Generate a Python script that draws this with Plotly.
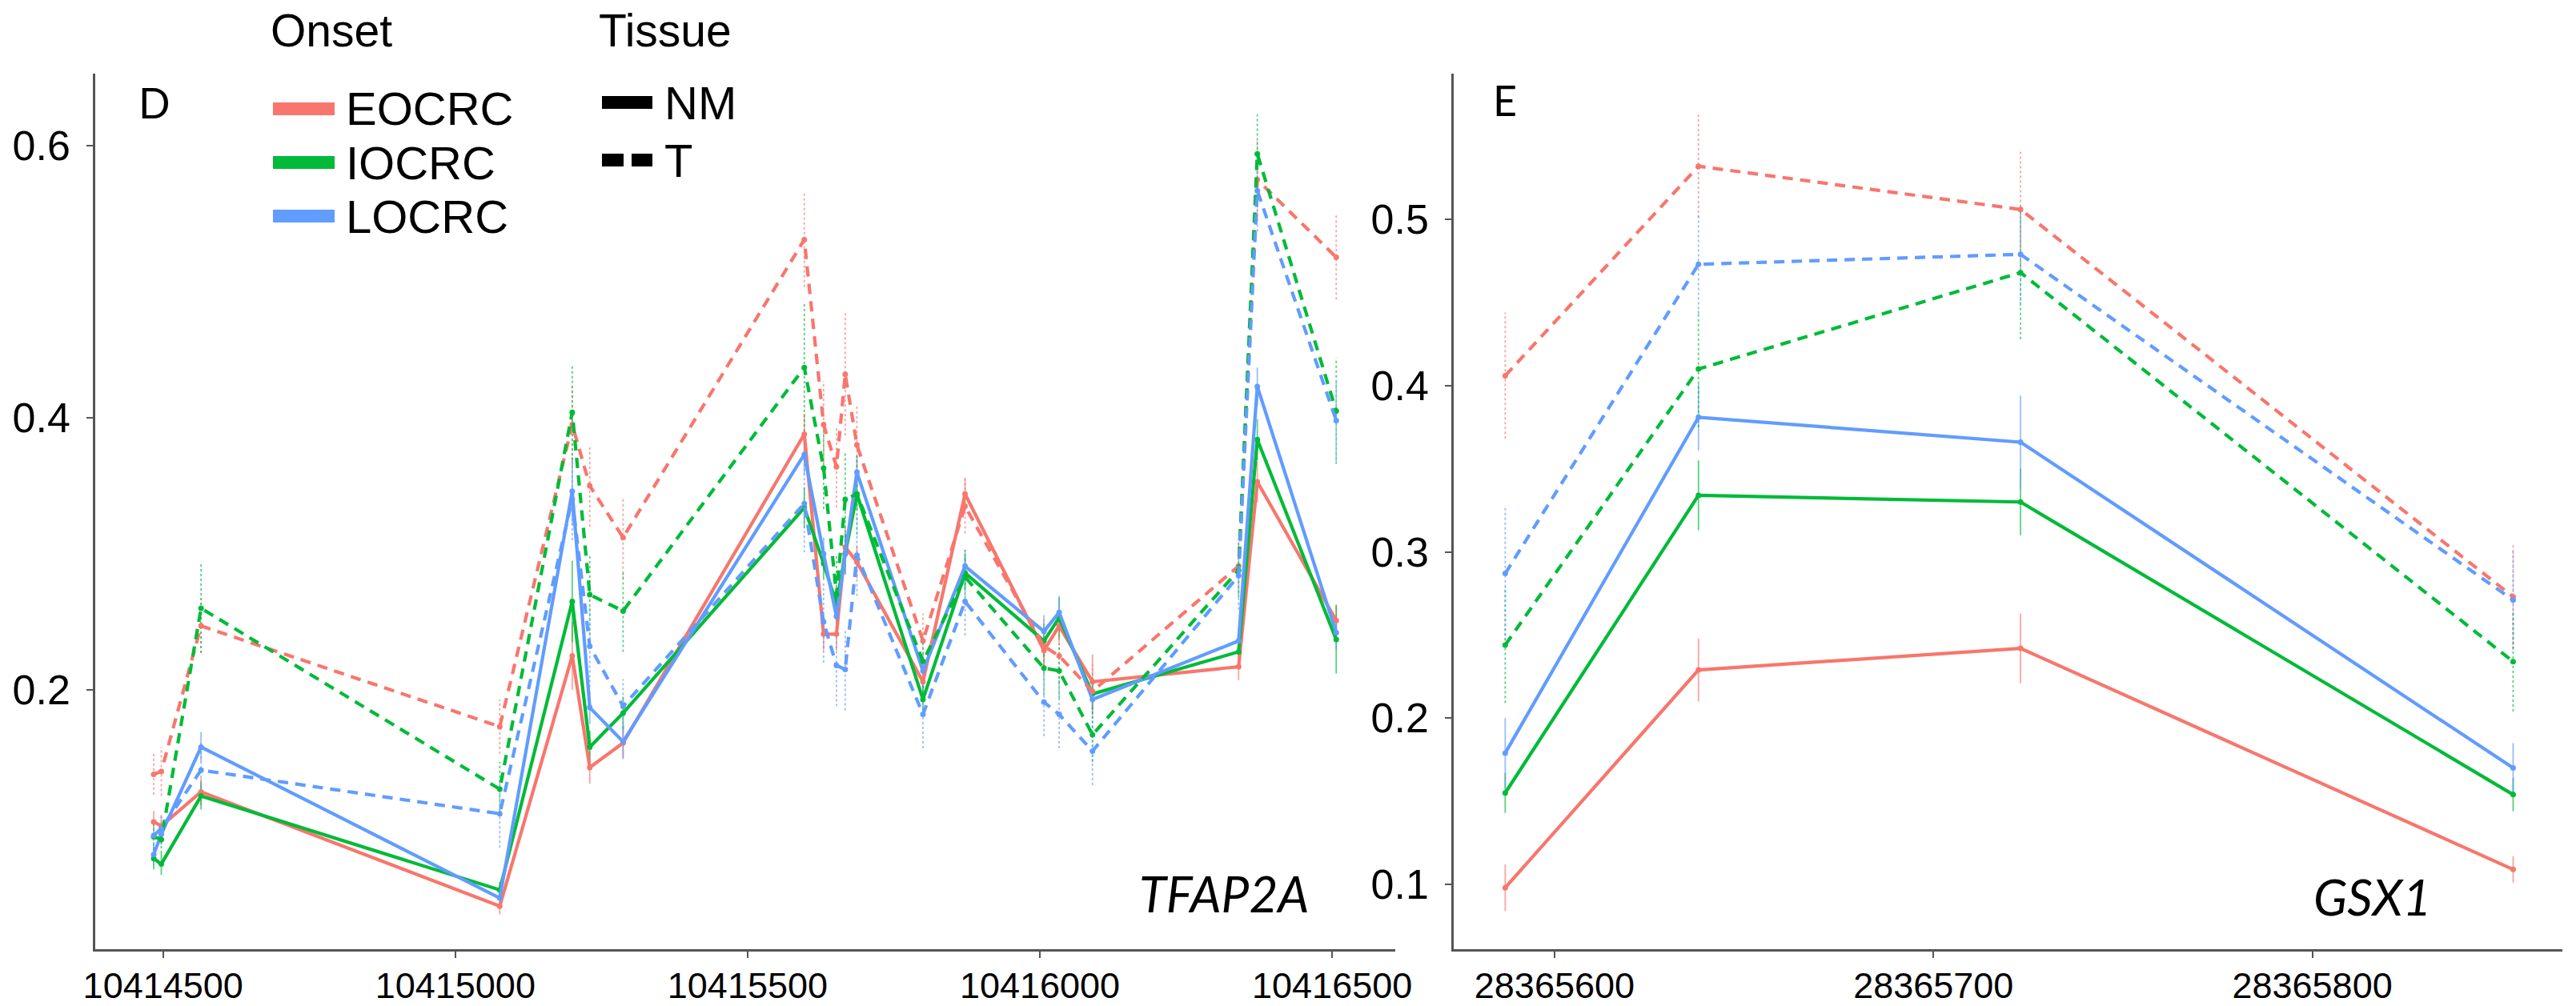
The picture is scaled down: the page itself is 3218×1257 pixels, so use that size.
import plotly.graph_objects as go

# ---------------- data ----------------
onsets = ["EOCRC", "IOCRC", "LOCRC"]
tissues = ["NM", "T"]
colors = {"EOCRC": "#F8766D", "IOCRC": "#00BA38", "LOCRC": "#619CFF"}

# Panel D : TFAP2A
pos_D = [10414484, 10414497, 10414565, 10415076, 10415200, 10415230, 10415287,
         10415597, 10415630, 10415652, 10415667, 10415687, 10415800, 10415872,
         10416007, 10416033, 10416090, 10416340, 10416372, 10416507]

D_EOCRC_NM = [0.103, 0.100, 0.125, 0.041, 0.225, 0.143, 0.161, 0.388, 0.241, 0.241,
              0.305, 0.294, 0.206, 0.344, 0.229, 0.247, 0.206, 0.217, 0.353, 0.251]
D_IOCRC_NM = [0.076, 0.072, 0.122, 0.053, 0.265, 0.158, 0.183, 0.334, 0.293, 0.263,
              0.300, 0.344, 0.193, 0.286, 0.236, 0.253, 0.197, 0.228, 0.384, 0.237]
D_LOCRC_NM = [0.079, 0.094, 0.158, 0.047, 0.346, 0.187, 0.162, 0.373, 0.300, 0.254,
              0.300, 0.360, 0.214, 0.291, 0.243, 0.257, 0.193, 0.236, 0.423, 0.242]
D_EOCRC_T = [0.138, 0.140, 0.247, 0.173, 0.395, 0.350, 0.312, 0.531, 0.395, 0.364,
             0.432, 0.380, 0.236, 0.335, 0.232, 0.225, 0.199, 0.291, 0.575, 0.518]
D_IOCRC_T = [0.092, 0.090, 0.260, 0.127, 0.404, 0.270, 0.258, 0.437, 0.363, 0.270,
             0.340, 0.344, 0.221, 0.283, 0.216, 0.214, 0.167, 0.288, 0.594, 0.405]
D_LOCRC_T = [0.093, 0.098, 0.141, 0.109, 0.340, 0.232, 0.188, 0.337, 0.250, 0.218,
             0.215, 0.299, 0.182, 0.265, 0.191, 0.182, 0.155, 0.284, 0.567, 0.398]

D_EOCRC_NM_se = [0.008, 0.008, 0.010, 0.006, 0.025, 0.012, 0.012, 0.015, 0.012, 0.012,
                 0.015, 0.012, 0.012, 0.012, 0.012, 0.012, 0.020, 0.010, 0.015, 0.012]
D_IOCRC_NM_se = [0.008, 0.008, 0.010, 0.006, 0.030, 0.012, 0.012, 0.015, 0.012, 0.012,
                 0.015, 0.012, 0.012, 0.012, 0.012, 0.015, 0.012, 0.010, 0.015, 0.025]
D_LOCRC_NM_se = [0.008, 0.008, 0.011, 0.006, 0.025, 0.012, 0.012, 0.015, 0.012, 0.012,
                 0.015, 0.012, 0.012, 0.012, 0.012, 0.012, 0.012, 0.010, 0.014, 0.012]
D_EOCRC_T_se = [0.015, 0.018, 0.020, 0.020, 0.030, 0.030, 0.030, 0.035, 0.032, 0.030,
                0.045, 0.030, 0.020, 0.020, 0.020, 0.020, 0.020, 0.020, 0.030, 0.031]
D_IOCRC_T_se = [0.010, 0.010, 0.033, 0.020, 0.035, 0.030, 0.030, 0.047, 0.030, 0.030,
                0.035, 0.030, 0.020, 0.020, 0.020, 0.020, 0.020, 0.020, 0.029, 0.039]
D_LOCRC_T_se = [0.010, 0.010, 0.020, 0.025, 0.030, 0.030, 0.020, 0.036, 0.030, 0.030,
                0.030, 0.030, 0.025, 0.025, 0.025, 0.025, 0.025, 0.025, 0.030, 0.030]

# Panel E : GSX1
pos_E = [28365587, 28365638, 28365723, 28365853]

E_EOCRC_NM = [0.098, 0.229, 0.242, 0.109]
E_IOCRC_NM = [0.155, 0.334, 0.330, 0.154]
E_LOCRC_NM = [0.179, 0.381, 0.366, 0.170]
E_EOCRC_T = [0.406, 0.532, 0.506, 0.273]
E_IOCRC_T = [0.244, 0.410, 0.468, 0.234]
E_LOCRC_T = [0.287, 0.473, 0.479, 0.271]

E_EOCRC_NM_se = [0.014, 0.019, 0.021, 0.008]
E_IOCRC_NM_se = [0.012, 0.021, 0.020, 0.010]
E_LOCRC_NM_se = [0.021, 0.020, 0.028, 0.015]
E_EOCRC_T_se = [0.038, 0.031, 0.036, 0.031]
E_IOCRC_T_se = [0.035, 0.035, 0.040, 0.030]
E_LOCRC_T_se = [0.040, 0.030, 0.030, 0.030]

D_yticks = [0.2, 0.4, 0.6]
D_xticks = [10414500, 10415000, 10415500, 10416000, 10416500]
E_yticks = [0.1, 0.2, 0.3, 0.4, 0.5]
E_xticks = [28365600, 28365700, 28365800]

panel_D = {
    ("EOCRC", "NM"): (D_EOCRC_NM, D_EOCRC_NM_se), ("IOCRC", "NM"): (D_IOCRC_NM, D_IOCRC_NM_se),
    ("LOCRC", "NM"): (D_LOCRC_NM, D_LOCRC_NM_se), ("EOCRC", "T"): (D_EOCRC_T, D_EOCRC_T_se),
    ("IOCRC", "T"): (D_IOCRC_T, D_IOCRC_T_se), ("LOCRC", "T"): (D_LOCRC_T, D_LOCRC_T_se),
}
panel_E = {
    ("EOCRC", "NM"): (E_EOCRC_NM, E_EOCRC_NM_se), ("IOCRC", "NM"): (E_IOCRC_NM, E_IOCRC_NM_se),
    ("LOCRC", "NM"): (E_LOCRC_NM, E_LOCRC_NM_se), ("EOCRC", "T"): (E_EOCRC_T, E_EOCRC_T_se),
    ("IOCRC", "T"): (E_IOCRC_T, E_IOCRC_T_se), ("LOCRC", "T"): (E_LOCRC_T, E_LOCRC_T_se),
}

DASH_T = "13px,9px"
SANS = "Liberation Sans"

fig = go.Figure()


def add_panel(pos, panel, xa, ya):
    for t in tissues:
        for o in onsets:
            vals, se = panel[(o, t)]
            ex, ey = [], []
            for x, v, s in zip(pos, vals, se):
                ex += [x, x, None]
                ey += [v - s, v + s, None]
            fig.add_trace(go.Scatter(
                x=ex, y=ey, mode="lines", xaxis=xa, yaxis=ya, showlegend=False,
                hoverinfo="skip", opacity=0.65,
                line=dict(color=colors[o], width=1.8, dash="dot" if t == "T" else "solid")))
    for t in tissues:
        for o in onsets:
            vals, se = panel[(o, t)]
            fig.add_trace(go.Scatter(
                x=pos, y=vals, mode="lines+markers", xaxis=xa, yaxis=ya, showlegend=False,
                name=f"{o} {t}",
                line=dict(color=colors[o], width=4.2, dash=DASH_T if t == "T" else "solid"),
                marker=dict(color=colors[o], size=7)))


add_panel(pos_D, panel_D, "x", "y")
add_panel(pos_E, panel_E, "x2", "y2")

W, H = 3218, 1257
ml, mr, mt, mb = 119, 17, 92, 71
pw = W - ml - mr
ph = H - mt - mb


def px_x(px):
    return (px - ml) / pw


def px_y(py):
    return (H - mb - py) / ph


# ---- manual legend (Onset / Tissue) ----
shapes = []
annotations = []
legend_onset_y = [136, 203, 270]
for o, yc in zip(onsets, legend_onset_y):
    shapes.append(dict(type="rect", xref="paper", yref="paper",
                       x0=px_x(341), x1=px_x(418), y0=px_y(yc + 8), y1=px_y(yc - 8),
                       fillcolor=colors[o], line=dict(width=0)))
    annotations.append(dict(text=o, x=px_x(430), y=px_y(yc), xref="paper", yref="paper",
                            xanchor="left", yanchor="middle", showarrow=False,
                            font=dict(family=SANS, size=58, color="black")))
annotations.append(dict(text="Onset", x=px_x(336), y=px_y(38), xref="paper", yref="paper",
                        xanchor="left", yanchor="middle", showarrow=False,
                        font=dict(family=SANS, size=57, color="black")))
annotations.append(dict(text="Tissue", x=px_x(746), y=px_y(38), xref="paper", yref="paper",
                        xanchor="left", yanchor="middle", showarrow=False,
                        font=dict(family=SANS, size=57, color="black")))
legend_tissue_y = [128, 200]
# NM: solid bar ; T: two dashes
shapes.append(dict(type="rect", xref="paper", yref="paper",
                   x0=px_x(752), x1=px_x(815), y0=px_y(128 + 8), y1=px_y(128 - 8),
                   fillcolor="black", line=dict(width=0)))
for a, b in [(752, 779), (789, 815)]:
    shapes.append(dict(type="rect", xref="paper", yref="paper",
                       x0=px_x(a), x1=px_x(b), y0=px_y(200 + 8), y1=px_y(200 - 8),
                       fillcolor="black", line=dict(width=0)))
for t, yc in zip(tissues, legend_tissue_y):
    annotations.append(dict(text=t, x=px_x(828), y=px_y(yc), xref="paper", yref="paper",
                            xanchor="left", yanchor="middle", showarrow=False,
                            font=dict(family=SANS, size=58, color="black")))

annotations += [
    dict(text="D", x=px_x(193), y=px_y(128), xref="paper", yref="paper", showarrow=False,
         xanchor="center", yanchor="middle",
         font=dict(family="Lato", size=52, color="black")),
    dict(text="E", x=px_x(1880), y=px_y(125), xref="paper", yref="paper", showarrow=False,
         xanchor="center", yanchor="middle",
         font=dict(family="Lato", size=52, color="black")),
    dict(text="<i>TFAP2A</i>", x=px_x(1529), y=px_y(1116), xref="paper", yref="paper",
         xanchor="center", yanchor="middle",
         showarrow=False, font=dict(family="Lato", size=62, color="black")),
    dict(text="<i>GSX1</i>", x=px_x(2963), y=px_y(1120), xref="paper", yref="paper",
         xanchor="center", yanchor="middle",
         showarrow=False, font=dict(family="Lato", size=62, color="black")),
]

axis_common = dict(showgrid=False, zeroline=False, showline=True, linecolor="#555555",
                   linewidth=2.5, ticks="outside", ticklen=8, tickwidth=2, tickcolor="#555555",
                   automargin=False)
xfont = dict(family=SANS, size=45, color="black")
yfont = dict(family=SANS, size=52, color="black")

fig.update_layout(
    width=W, height=H,
    margin=dict(l=ml, r=mr, t=mt, b=mb, autoexpand=False),
    paper_bgcolor="white", plot_bgcolor="white",
    font=dict(family=SANS, color="black"),
    showlegend=False,
    xaxis=dict(domain=[0, px_x(1743)], range=[10414384, 10416608], tickvals=D_xticks,
               tickformat="d", anchor="y", ticklabelstandoff=-4, tickfont=xfont, **axis_common),
    yaxis=dict(domain=[0, 1], range=[0.0094, 0.653], tickvals=D_yticks, tickformat=".1f",
               anchor="x", ticklabelstandoff=10, tickfont=yfont, **axis_common),
    xaxis2=dict(domain=[px_x(1816), 1], range=[28365573.4, 28365866], tickvals=E_xticks,
                tickformat="d", anchor="y2", ticklabelstandoff=-4, tickfont=xfont, **axis_common),
    yaxis2=dict(domain=[0, 1], range=[0.061, 0.5877], tickvals=E_yticks, tickformat=".1f",
                anchor="x2", ticklabelstandoff=10, tickfont=yfont, **axis_common),
    shapes=shapes,
    annotations=annotations,
)

fig.write_html("out.html")
